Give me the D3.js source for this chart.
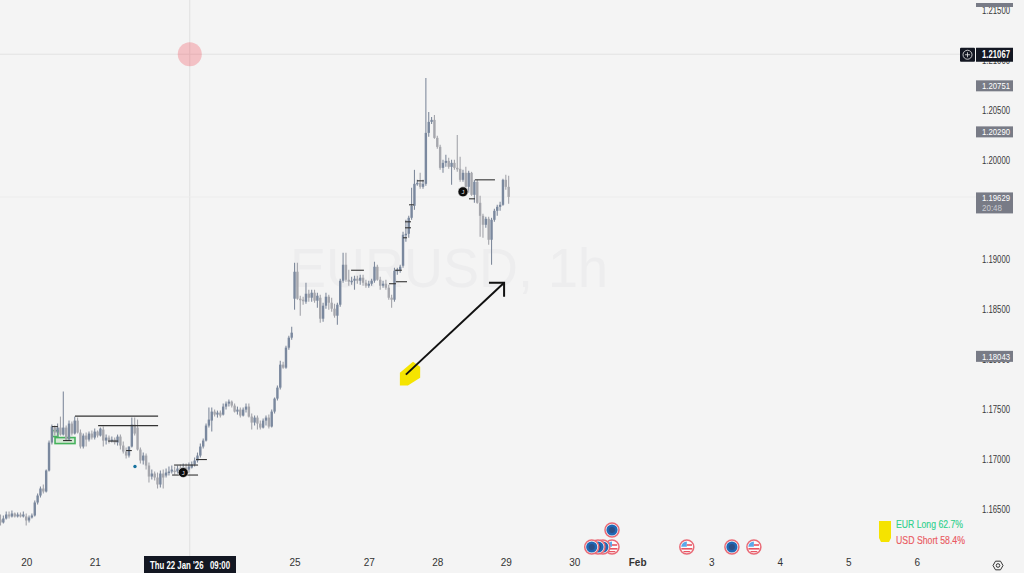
<!DOCTYPE html>
<html lang="en">
<head>
<meta charset="UTF-8">
<title>EURUSD, 1h</title>
<script src="https://d3js.org/d3.v7.min.js"></script>
<style>
  html, body { margin: 0; padding: 0; background: #f4f4f4; overflow: hidden; }
  svg { display: block; font-family: "Liberation Sans", Arial, sans-serif; }
</style>
</head>
<body>
<svg id="chart" width="1024" height="573"></svg>
<script>
// hourly bars
var opens = [
1.1640,1.1637,1.1641,1.1645,1.1643,1.1646,1.1643,1.1645,1.1643,1.1643,1.1639,1.1642,1.1644,1.1657,1.1664,
1.1671,1.1668,1.1689,1.1717,1.1732,1.1727,1.1732,1.1725,1.1732,1.1720,1.1736,1.1726,1.1739,1.1727,1.1713,
1.1724,1.1720,1.1726,1.1722,1.1728,1.1724,1.1730,1.1719,1.1722,1.1719,1.1720,1.1717,1.1723,1.1714,1.1708,
1.1704,1.1713,1.1735,1.1732,1.1710,1.1699,1.1704,1.1694,1.1683,1.1686,1.1682,1.1675,1.1686,1.1684,1.1687,
1.1688,1.1689,1.1688,1.1691,1.1689,1.1692,1.1690,1.1692,1.1695,1.1699,1.1704,1.1713,1.1719,1.1734,1.1739,
1.1748,1.1745,1.1747,1.1745,1.1753,1.1756,1.1758,1.1754,1.1748,1.1750,1.1744,1.1750,1.1753,1.1743,1.1737,
1.1742,1.1736,1.1732,1.1739,1.1742,1.1733,1.1748,1.1761,1.1772,1.1795,1.1792,1.1812,1.1822,1.1861,1.1888,
1.1861,1.1860,1.1858,1.1866,1.1862,1.1867,1.1859,1.1862,1.1841,1.1854,1.1863,1.1857,1.1851,1.1844,1.1855,
1.1879,1.1895,1.1880,1.1878,1.1879,1.1881,1.1879,1.1882,1.1877,1.1874,1.1876,1.1879,1.1893,1.1880,1.1874,
1.1876,1.1872,1.1862,1.1860,1.1889,1.1890,1.1894,1.1925,1.1926,1.1942,1.1954,1.1976,1.1977,1.1973,1.1976,
1.2027,1.2038,1.2040,1.2022,1.2013,1.1992,1.1997,1.1999,1.1993,1.1997,1.1992,1.1991,1.1980,1.1987,1.1973,
1.1987,1.1965,1.1978,1.1957,1.1944,1.1935,1.1941,1.1920,1.1940,1.1949,1.1953,1.1955,1.1980,1.1973];
var closes = [
1.1637,1.1641,1.1645,1.1643,1.1646,1.1643,1.1645,1.1643,1.1645,1.1639,1.1642,1.1644,1.1657,1.1664,1.1671,
1.1668,1.1689,1.1717,1.1733,1.1727,1.1732,1.1725,1.1732,1.1720,1.1736,1.1726,1.1739,1.1727,1.1713,1.1724,
1.1720,1.1726,1.1722,1.1728,1.1724,1.1731,1.1719,1.1722,1.1719,1.1720,1.1717,1.1723,1.1714,1.1708,1.1704,
1.1713,1.1735,1.1726,1.1710,1.1699,1.1704,1.1694,1.1683,1.1686,1.1682,1.1675,1.1686,1.1682,1.1687,1.1688,
1.1690,1.1688,1.1691,1.1689,1.1692,1.1690,1.1693,1.1695,1.1699,1.1704,1.1713,1.1719,1.1734,1.1740,1.1748,
1.1745,1.1747,1.1744,1.1753,1.1756,1.1758,1.1754,1.1748,1.1750,1.1744,1.1750,1.1753,1.1743,1.1737,1.1742,
1.1736,1.1732,1.1739,1.1742,1.1733,1.1748,1.1761,1.1772,1.1795,1.1792,1.1812,1.1822,1.1827,1.1888,1.1861,
1.1860,1.1859,1.1866,1.1862,1.1867,1.1859,1.1864,1.1841,1.1854,1.1863,1.1857,1.1851,1.1844,1.1855,1.1879,
1.1895,1.1880,1.1878,1.1879,1.1881,1.1879,1.1882,1.1877,1.1874,1.1876,1.1879,1.1893,1.1880,1.1874,1.1876,
1.1872,1.1862,1.1860,1.1889,1.1890,1.1893,1.1925,1.1926,1.1942,1.1954,1.1976,1.1977,1.1973,1.1976,1.2027,
1.2038,1.2040,1.2022,1.2013,1.1992,1.1997,1.1999,1.1993,1.1997,1.1992,1.1991,1.1980,1.1987,1.1973,1.1987,
1.1965,1.1978,1.1957,1.1944,1.1935,1.1941,1.1920,1.1940,1.1949,1.1953,1.1955,1.1980,1.1973,1.19629];
var highs = [
1.1645,1.1644,1.1648,1.1648,1.1649,1.1647,1.1647,1.1647,1.1648,1.1646,1.1644,1.1646,1.1659,1.1666,1.1673,
1.1675,1.1690,1.1719,1.1735,1.1734,1.1736,1.1743,1.1768,1.1734,1.1739,1.1738,1.1743,1.1742,1.1730,1.1726,
1.1727,1.1728,1.1729,1.1731,1.1729,1.1732,1.1733,1.1725,1.1724,1.1723,1.1722,1.1725,1.1725,1.1718,1.1712,
1.1713,1.1742,1.1742,1.1740,1.1712,1.1707,1.1706,1.1697,1.1690,1.1688,1.1687,1.1689,1.1690,1.1691,1.1693,
1.1694,1.1693,1.1694,1.1695,1.1696,1.1696,1.1697,1.1698,1.1702,1.1707,1.1716,1.1721,1.1736,1.1752,1.1752,
1.1750,1.1749,1.1749,1.1756,1.1758,1.1760,1.1759,1.1756,1.1753,1.1752,1.1752,1.1756,1.1756,1.1746,1.1744,
1.1744,1.1739,1.1741,1.1744,1.1745,1.1750,1.1762,1.1774,1.1799,1.1798,1.1814,1.1824,1.1833,1.1897,1.1897,
1.1864,1.1863,1.1877,1.1870,1.1870,1.1870,1.1867,1.1865,1.1857,1.1867,1.1865,1.1862,1.1856,1.1857,1.1881,
1.1907,1.1907,1.1890,1.1883,1.1884,1.1884,1.1885,1.1885,1.1880,1.1879,1.1881,1.1898,1.1895,1.1883,1.1879,
1.1880,1.1875,1.1865,1.1892,1.1892,1.1895,1.1928,1.1940,1.1944,1.1972,1.1990,1.1980,1.1987,1.1980,1.2082,
1.2048,1.2043,1.2045,1.2024,1.2015,1.2000,1.2005,1.2002,1.2000,1.2000,1.2025,1.2003,1.1990,1.1993,1.1989,
1.1988,1.1980,1.1980,1.1964,1.1946,1.1943,1.1943,1.1942,1.1951,1.1955,1.1958,1.1981,1.1985,1.1984];
var lows = [
1.1634,1.1636,1.1640,1.1641,1.1642,1.1642,1.1642,1.1642,1.1642,1.1634,1.1637,1.1641,1.1643,1.1655,1.1662,
1.1666,1.1667,1.1688,1.1715,1.1724,1.1723,1.1724,1.1724,1.1719,1.1719,1.1724,1.1725,1.1726,1.1711,1.1711,
1.1713,1.1718,1.1720,1.1720,1.1722,1.1723,1.1713,1.1715,1.1716,1.1717,1.1715,1.1714,1.1710,1.1706,1.1701,
1.1702,1.1712,1.1724,1.1709,1.1696,1.1695,1.1690,1.1677,1.1680,1.1679,1.1671,1.1672,1.1671,1.1682,1.1684,
1.1686,1.1685,1.1686,1.1687,1.1687,1.1688,1.1687,1.1691,1.1693,1.1697,1.1702,1.1711,1.1718,1.1732,1.1728,
1.1743,1.1742,1.1742,1.1744,1.1750,1.1753,1.1752,1.1747,1.1745,1.1742,1.1743,1.1747,1.1742,1.1730,1.1734,
1.1730,1.1730,1.1731,1.1734,1.1731,1.1732,1.1746,1.1759,1.1770,1.1791,1.1791,1.1810,1.1820,1.1850,1.1860,
1.1844,1.1855,1.1856,1.1858,1.1858,1.1857,1.1852,1.1837,1.1838,1.1851,1.1850,1.1848,1.1842,1.1835,1.1853,
1.1877,1.1878,1.1874,1.1875,1.1870,1.1876,1.1875,1.1874,1.1872,1.1872,1.1874,1.1877,1.1879,1.1870,1.1872,
1.1870,1.1860,1.1852,1.1858,1.1885,1.1887,1.1892,1.1918,1.1922,1.1940,1.1950,1.1974,1.1971,1.1971,1.1974,
1.2023,1.2036,1.2021,1.2011,1.1990,1.1987,1.1993,1.1991,1.1975,1.1990,1.1988,1.1978,1.1978,1.1972,1.1967,
1.1964,1.1957,1.1956,1.1923,1.1922,1.1932,1.1915,1.1895,1.1938,1.1944,1.1949,1.1954,1.1970,1.1956];

var priceTicks = [1.215, 1.21, 1.205, 1.2, 1.19, 1.185, 1.18, 1.175, 1.17, 1.165];
var dayTicks = [9, 33, 103, 129, 153, 177, 201, 223, 249, 273, 297, 321];
var dayLabels = ["20", "21", "25", "27", "28", "29", "30", "Feb", "3", "4", "5", "6"];

var tagPrices = [1.20751, 1.2029, 1.18043];
var lastPrice = 1.19629, crossPrice = 1.21067, crossBar = 66.3;

// drawn levels: start bar, end bar, price
var levelStart = [26.1, 34.2, 18, 60.8, 60.1, 68.5, 37.7, 44, 21.9, 122.8, 136.1, 138.5, 138.2, 143.1, 141.7, 141.7, 141, 145.9, 166.2, 164.1];
var levelEnd = [55.2, 55.2, 20.1, 69.2, 69.2, 72.3, 41.2, 46, 25, 127.3, 138.5, 142.4, 140.6, 144.8, 143.8, 143.8, 142.4, 148.3, 173.2, 166.2];
var levelPrice = [1.17435, 1.1734, 1.1733, 1.16945, 1.16845, 1.17, 1.17185, 1.1709, 1.1719, 1.18895, 1.1876, 1.1878, 1.18895, 1.1955, 1.1938, 1.1932, 1.1922, 1.1979, 1.198, 1.1961];

var zoneStart = [19.1, 18], zoneEnd = [26.1, 20.1], zoneTop = [1.1722, 1.1729], zoneBottom = [1.1716, 1.1723];

var dotBars = [64, 162], dotPrices = [1.1687, 1.1968];
var markerBar = 47.1, markerPrice = 1.1693;

// arrow and highlighter blob, bar / price pairs
var arrowBars = [142, 176.4], arrowPrices = [1.1785, 1.1877];
var headBars = [171.1, 176.4, 176.4], headPrices = [1.1877, 1.1877, 1.1863];
var blobBars = [139.9, 144.5, 147, 147, 142.7, 139.9], blobPrices = [1.1787, 1.1798, 1.1793, 1.1782, 1.1774, 1.1774];

// calendar events, right to left so the left ones end up on top
var eventBars = [263.9, 256.2, 240.4, 214.2, 214.2, 211, 209.3, 207.1];
var eventKinds = ["us", "eu", "us", "eu", "us", "eu", "eu", "eu"];
var eventRow = [0, 0, 0, 1, 0, 0, 0, 0];

var svg = d3.select("#chart");
var W = 1024, H = 573;

var x = d3.scaleLinear().domain([0, 321]).range([0.5, 916.9]);
var y = d3.scaleLinear().domain([1.215, 1.165]).range([10, 509.5]);

svg.append("rect").attr("width", W).attr("height", H).attr("fill", "#f4f4f4");

// watermark
svg.append("text").attr("x", 449).attr("y", 287).attr("text-anchor", "middle")
  .attr("font-size", 56).attr("fill", "#ededee")
  .attr("textLength", 318).attr("lengthAdjust", "spacingAndGlyphs")
  .text("EURUSD, 1h");

// crosshair and last price line
var crossLineY = y(crossPrice) + 1;
svg.append("line").attr("x1", x(crossBar)).attr("x2", x(crossBar)).attr("y1", 0).attr("y2", 556).attr("stroke", "#e0e0e0");
svg.append("line").attr("x1", 0).attr("x2", 960).attr("y1", crossLineY).attr("y2", crossLineY).attr("stroke", "#e2e2e2");
svg.append("line").attr("x1", 0).attr("x2", 976).attr("y1", y(lastPrice)).attr("y2", y(lastPrice)).attr("stroke", "#ececec");
svg.append("circle").attr("cx", x(crossBar)).attr("cy", crossLineY).attr("r", 12).attr("fill", "#f23645").attr("fill-opacity", 0.27);

// zones
svg.append("g").selectAll("rect").data(zoneStart).join("rect")
  .attr("x", function(d) { return x(d); })
  .attr("y", function(d, i) { return y(zoneTop[i]); })
  .attr("width", function(d, i) { return x(zoneEnd[i]) - x(d); })
  .attr("height", function(d, i) { return y(zoneBottom[i]) - y(zoneTop[i]); })
  .attr("fill", "#4caf50").attr("fill-opacity", 0.18)
  .attr("stroke", "#45b25c").attr("stroke-width", 1.6);

// bars
var bars = d3.range(opens.length);
var g = svg.append("g");
g.selectAll("line").data(bars).join("line")
  .attr("x1", function(i) { return x(i); })
  .attr("x2", function(i) { return x(i); })
  .attr("y1", function(i) { return y(highs[i]); })
  .attr("y2", function(i) { return y(lows[i]); })
  .attr("stroke", function(i) { return closes[i] >= opens[i] ? "#808b9d" : "#a4a5ab"; })
  .attr("stroke-width", 1.1);
g.selectAll("rect").data(bars).join("rect")
  .attr("x", function(i) { return x(i) - 1.2; })
  .attr("width", 2.4)
  .attr("y", function(i) { return y(Math.max(opens[i], closes[i])); })
  .attr("height", function(i) { return Math.max(1.5, Math.abs(y(opens[i]) - y(closes[i]))); })
  .attr("fill", function(i) { return closes[i] >= opens[i] ? "#7a889e" : "#a6a7ad"; });

// levels
svg.append("g").selectAll("line").data(levelPrice).join("line")
  .attr("x1", function(d, i) { return x(levelStart[i]); })
  .attr("x2", function(d, i) { return x(levelEnd[i]); })
  .attr("y1", function(d) { return y(d); })
  .attr("y2", function(d) { return y(d); })
  .attr("stroke", "#333").attr("stroke-width", 1.1);

// dots
svg.append("g").selectAll("circle").data(dotBars).join("circle")
  .attr("cx", function(d) { return x(d); })
  .attr("cy", function(d, i) { return y(dotPrices[i]); })
  .attr("r", 5).attr("fill", "#0c0c0c").attr("stroke", "#f4f4f4").attr("stroke-width", 0.6);
svg.append("g").selectAll("text").data(dotBars).join("text")
  .attr("x", function(d) { return x(d); })
  .attr("y", function(d, i) { return y(dotPrices[i]) + 2; })
  .attr("text-anchor", "middle").attr("font-size", 6).attr("fill", "#e8e8e8").text("J");
svg.append("circle").attr("cx", x(markerBar)).attr("cy", y(markerPrice)).attr("r", 1.7).attr("fill", "#15719e");

// arrow
var pathLine = d3.line().x(function(d) { return x(d[0]); }).y(function(d) { return y(d[1]); });
svg.append("path").attr("d", pathLine(d3.zip(blobBars, blobPrices)) + "Z").attr("fill", "#f5e400");
svg.append("path").attr("d", pathLine(d3.zip(arrowBars, arrowPrices))).attr("fill", "none").attr("stroke", "#111").attr("stroke-width", 2);
svg.append("path").attr("d", pathLine(d3.zip(headBars, headPrices))).attr("fill", "none").attr("stroke", "#111").attr("stroke-width", 2);

// price axis
var axisY = svg.append("g").attr("transform", "translate(982,0)")
  .call(d3.axisRight(y).tickValues(priceTicks).tickFormat(d3.format(".5f")).tickSize(0).tickPadding(0));
axisY.select(".domain").remove();
axisY.selectAll("text").attr("font-family", "Liberation Sans").attr("font-size", 10).attr("fill", "#3a3a3a")
  .attr("textLength", 28).attr("lengthAdjust", "spacingAndGlyphs");

// time axis
var axisX = svg.append("g").attr("transform", "translate(0,555)")
  .call(d3.axisBottom(x).tickValues(dayTicks).tickFormat(function(d, i) { return dayLabels[i]; }).tickSize(0).tickPadding(4));
axisX.select(".domain").remove();
axisX.selectAll("text").attr("font-family", "Liberation Sans").attr("font-size", 10).attr("fill", "#333")
  .attr("font-weight", function(d, i) { return dayLabels[i] == "Feb" ? "bold" : "normal"; });

// price tags
svg.append("rect").attr("x", 976).attr("y", 3).attr("width", 37).attr("height", 4).attr("fill", "#787b86");
var tags = svg.append("g").selectAll("g").data(tagPrices).join("g")
  .attr("transform", function(d) { return "translate(976," + (y(d) + 1) + ")"; });
tags.append("rect").attr("y", -5.5).attr("width", 37).attr("height", 11).attr("fill", "#787b86");
tags.append("text").attr("x", 6).attr("y", 3.3).attr("font-size", 9.5).attr("fill", "#fff")
  .attr("textLength", 28).attr("lengthAdjust", "spacingAndGlyphs")
  .text(function(d) { return d.toFixed(5); });

var lastY = y(lastPrice);
svg.append("rect").attr("x", 976).attr("y", lastY - 4.5).attr("width", 37).attr("height", 21).attr("fill", "#787b86");
svg.append("text").attr("x", 982).attr("y", lastY + 3.6).attr("font-size", 9).attr("fill", "#fff")
  .attr("textLength", 28).attr("lengthAdjust", "spacingAndGlyphs").text(lastPrice.toFixed(5));
svg.append("text").attr("x", 982).attr("y", lastY + 13.6).attr("font-size", 9).attr("fill", "#c9cbd2")
  .attr("textLength", 20).attr("lengthAdjust", "spacingAndGlyphs").text("20:48");

var crossY = crossLineY;
svg.append("rect").attr("x", 960).attr("y", crossY - 6.5).attr("width", 15).attr("height", 14).attr("rx", 1).attr("fill", "#131722");
svg.append("circle").attr("cx", 967.5).attr("cy", crossY + 0.5).attr("r", 4.5).attr("fill", "none").attr("stroke", "#e8e8e8").attr("stroke-width", 0.8);
svg.append("path").attr("d", "M965 " + (crossY + 0.5) + "h5M967.5 " + (crossY - 2) + "v5").attr("stroke", "#e8e8e8").attr("stroke-width", 0.8);
svg.append("rect").attr("x", 976).attr("y", crossY - 6.5).attr("width", 37).attr("height", 14).attr("fill", "#131722");
svg.append("text").attr("x", 982).attr("y", crossY + 4).attr("font-size", 10).attr("font-weight", "bold").attr("fill", "#fff")
  .attr("textLength", 28).attr("lengthAdjust", "spacingAndGlyphs").text(crossPrice.toFixed(5));

// crosshair time tag
svg.append("rect").attr("x", 144).attr("y", 556).attr("width", 92).attr("height", 17).attr("fill", "#131722");
svg.append("text").attr("x", 150).attr("y", 568.5).attr("font-size", 10).attr("font-weight", "bold").attr("fill", "#fff").attr("xml:space", "preserve")
  .attr("textLength", 80).attr("lengthAdjust", "spacingAndGlyphs").text("Thu 22 Jan '26   09:00");

// calendar events
var evG = svg.append("g").selectAll("g").data(eventBars).join("g")
  .attr("transform", function(d, i) { return "translate(" + x(d) + "," + (eventRow[i] ? 530 : 547) + ")"; });
evG.append("circle").attr("r", 7).attr("fill", "#fbfbfb").attr("stroke", "#e96a76").attr("stroke-width", 1.5);
evG.filter(function(d, i) { return eventKinds[i] == "eu"; }).each(function() {
  var e = d3.select(this);
  e.append("circle").attr("r", 5.6).attr("fill", "#2068b5");
  e.append("circle").attr("r", 3).attr("fill", "#2d4f86");
});
evG.filter(function(d, i) { return eventKinds[i] == "us"; }).each(function() {
  var e = d3.select(this);
  e.append("path").attr("d", "M-5.6 -0.3A5.6 5.6 0 0 1 0 -5.6V-0.3Z").attr("fill", "#5aa8ea");
  e.append("path").attr("d", "M-5.5 1H5.5V2.6H-5.5Z").attr("fill", "#e85563");
  e.append("path").attr("d", "M-3.8 4H3.8L2.6 5.2H-2.6Z").attr("fill", "#e85563");
  e.append("path").attr("d", "M0 -2.8H5.2V-1.2H0Z").attr("fill", "#e85563");
});

// sentiment box
svg.append("path").attr("d", "M879 521H891V538L889 542H881L879 538Z").attr("fill", "#f5e300");
svg.append("text").attr("x", 896).attr("y", 527.5).attr("font-size", 11).attr("fill", "#2fd18d")
  .attr("stroke", "#2fd18d").attr("stroke-width", 0.15)
  .attr("textLength", 67).attr("lengthAdjust", "spacingAndGlyphs").text("EUR Long 62.7%");
svg.append("text").attr("x", 896).attr("y", 544).attr("font-size", 11).attr("fill", "#ea5a62")
  .attr("stroke", "#ea5a62").attr("stroke-width", 0.15)
  .attr("textLength", 69).attr("lengthAdjust", "spacingAndGlyphs").text("USD Short 58.4%");

// settings gear
var gear = svg.append("g").attr("transform", "translate(998,565.5)");
gear.append("path").attr("d", d3.line()(d3.range(6).map(function(k) {
  return [5 * Math.cos(k * Math.PI / 3), 5 * Math.sin(k * Math.PI / 3)];
})) + "Z").attr("fill", "none").attr("stroke", "#333").attr("stroke-width", 1);
gear.append("circle").attr("r", 1.8).attr("fill", "none").attr("stroke", "#333").attr("stroke-width", 1);
</script>
</body>
</html>
